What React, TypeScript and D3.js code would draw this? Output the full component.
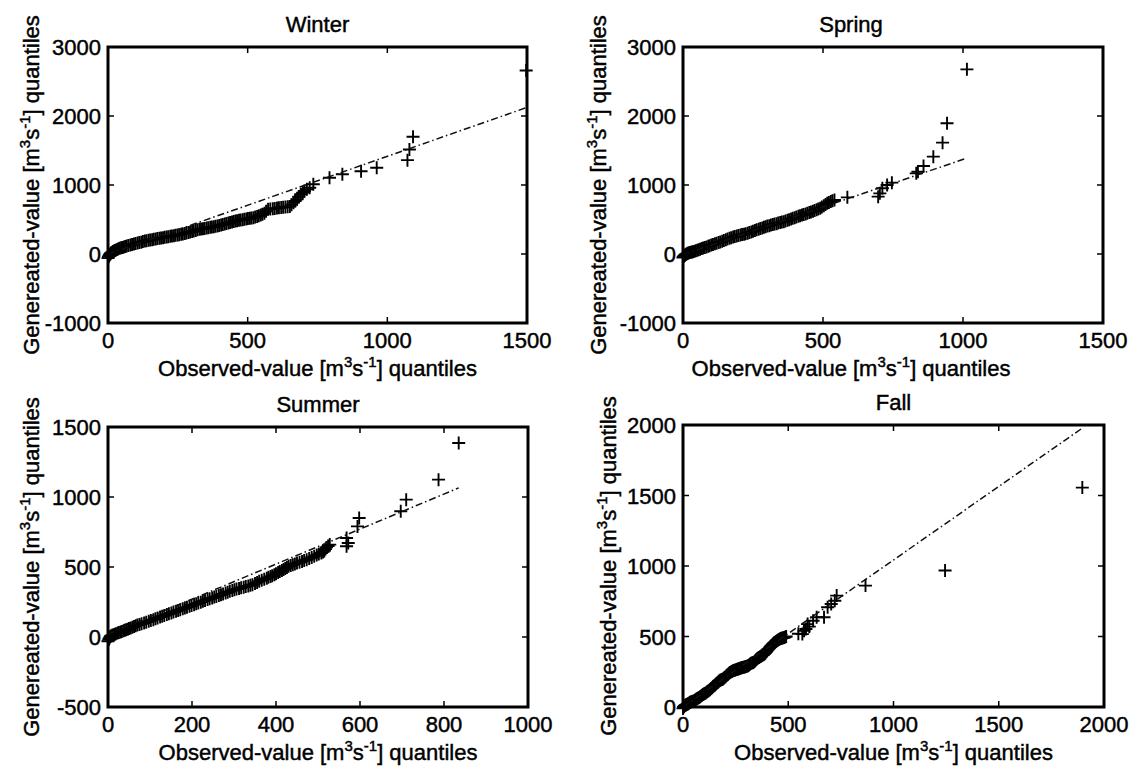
import React from "react";
import * as d3 from "d3";

type Pt = [number, number];

const titles = ["Winter", "Spring", "Summer", "Fall"];

const winterPoints: Pt[] = [
  [0, -60], [2, -40], [4, -25], [6, -10], [8, 0], [10, 10], [12, 18], [15, 27], [18, 35], [21, 43],
  [25, 51], [29, 59], [33, 67], [37, 75], [42, 82], [47, 90], [52, 96], [57, 103], [62, 110], [67, 116],
  [73, 122], [80, 130], [86, 137], [93, 145], [99, 151], [106, 158], [112, 165], [119, 172], [125, 180],
  [132, 188], [138, 193], [145, 198], [151, 203], [158, 208], [164, 213], [171, 218], [177, 223], [184, 228],
  [190, 232], [197, 237], [203, 241], [210, 246], [216, 251], [223, 256], [229, 260], [236, 265], [242, 270],
  [249, 275], [255, 280], [262, 285], [268, 291], [275, 298], [281, 305], [288, 312], [294, 319], [301, 326],
  [307, 334], [314, 342], [320, 350], [327, 357], [333, 361], [340, 366], [346, 371], [353, 376], [359, 381],
  [366, 386], [372, 391], [379, 396], [385, 401], [392, 406], [398, 413], [405, 420], [411, 428], [418, 435],
  [424, 443], [431, 450], [437, 458], [444, 465], [450, 472], [456, 478], [462, 483], [469, 488], [475, 493],
  [482, 498], [488, 503], [495, 508], [501, 513], [508, 518], [514, 522], [521, 527], [527, 536], [534, 545],
  [540, 555], [547, 565], [553, 577], [560, 590], [566, 620], [573, 650], [581, 652], [590, 655], [597, 660],
  [605, 665], [612, 670], [620, 675], [627, 677], [635, 680], [643, 685], [651, 690], [657, 715], [664, 744],
  [670, 768], [677, 792], [683, 830], [690, 865], [697, 890], [703, 913], [712, 937], [722, 961], [735, 1010],
  [793, 1105], [839, 1155], [906, 1200], [962, 1250], [1072, 1360], [1079, 1515], [1092, 1700], [1497, 2660],
];

const springPoints: Pt[] = [
  [0, -50], [2, -38], [4, -30], [6, -20], [8, -10], [11, -2], [14, 5], [17, 10], [20, 15], [24, 20],
  [28, 25], [32, 30], [36, 34], [41, 41], [46, 48], [51, 55], [56, 62], [61, 70], [67, 78], [72, 86],
  [78, 95], [84, 103], [90, 112], [95, 121], [101, 130], [107, 139], [114, 148], [120, 156], [127, 165],
  [133, 175], [140, 185], [146, 195], [153, 205], [159, 216], [166, 227], [172, 236], [179, 245], [185, 253],
  [192, 260], [198, 268], [205, 275], [211, 282], [218, 288], [224, 294], [231, 300], [237, 310], [244, 320],
  [250, 330], [257, 340], [263, 350], [270, 360], [276, 369], [283, 378], [289, 387], [295, 396], [301, 404],
  [308, 411], [314, 419], [321, 426], [327, 433], [334, 440], [340, 448], [347, 455], [353, 462], [360, 469],
  [366, 478], [373, 488], [379, 498], [386, 508], [392, 517], [399, 527], [405, 537], [412, 546], [418, 556],
  [425, 565], [431, 572], [438, 580], [444, 590], [451, 600], [457, 610], [464, 620], [470, 630], [477, 640],
  [483, 651], [490, 662], [496, 680], [503, 700], [509, 717], [515, 734], [521, 747], [528, 760], [534, 772],
  [541, 783], [587, 821], [697, 831], [703, 879], [712, 952], [729, 1000], [746, 1034], [833, 1169],
  [839, 1193], [859, 1275], [894, 1411], [927, 1614], [943, 1894], [1014, 2676],
];

const summerPoints: Pt[] = [
  [0, -30], [2, -18], [3, -10], [5, 0], [6, 5], [8, 9], [10, 12], [13, 16], [16, 20], [19, 24],
  [23, 28], [26, 32], [30, 36], [33, 40], [37, 44], [40, 48], [43, 52], [47, 56], [50, 60], [54, 65],
  [58, 70], [62, 75], [66, 80], [70, 85], [75, 90], [80, 95], [86, 100], [91, 106], [97, 112], [102, 118],
  [108, 124], [113, 130], [118, 136], [124, 142], [129, 148], [134, 154], [140, 160], [145, 166], [151, 172],
  [156, 178], [162, 184], [167, 190], [172, 195], [178, 201], [183, 207], [188, 213], [194, 219], [199, 225],
  [205, 231], [210, 237], [215, 243], [221, 249], [226, 255], [231, 261], [237, 267], [242, 273], [248, 279],
  [253, 285], [258, 290], [264, 296], [269, 302], [274, 308], [280, 314], [285, 320], [290, 326], [296, 332],
  [301, 338], [306, 342], [312, 347], [317, 352], [323, 356], [328, 361], [334, 365], [339, 370], [344, 374],
  [350, 382], [355, 390], [360, 398], [366, 405], [372, 413], [378, 420], [382, 426], [387, 432], [391, 438],
  [396, 445], [400, 452], [405, 460], [409, 467], [414, 475], [418, 482], [422, 490], [426, 497], [430, 505],
  [435, 511], [440, 516], [445, 522], [450, 528], [456, 534], [462, 540], [467, 546], [473, 552], [479, 560],
  [485, 568], [491, 576], [497, 585], [502, 592], [508, 600], [512, 608], [515, 615], [518, 628], [520, 640],
  [524, 650], [528, 660], [568, 648], [572, 671], [568, 707], [594, 790], [598, 850], [697, 898], [710, 981],
  [787, 1124], [835, 1386],
];

const fallPoints: Pt[] = [
  [0, -10], [3, 0], [5, 4], [8, 8], [11, 12], [14, 15], [17, 17], [20, 19], [23, 22], [26, 25],
  [29, 28], [33, 32], [36, 35], [40, 38], [46, 40], [52, 43], [56, 48], [60, 52], [64, 56], [68, 60],
  [72, 64], [77, 68], [81, 73], [86, 78], [90, 83], [95, 88], [99, 92], [103, 96], [108, 100], [112, 105],
  [116, 110], [120, 114], [125, 119], [129, 125], [133, 131], [138, 137], [142, 143], [146, 149], [151, 155],
  [155, 161], [159, 167], [164, 173], [168, 179], [172, 185], [176, 189], [180, 192], [185, 195], [189, 197],
  [193, 203], [197, 209], [202, 215], [206, 221], [210, 227], [214, 233], [219, 239], [223, 244], [228, 248],
  [232, 252], [236, 255], [240, 258], [245, 261], [249, 263], [254, 266], [258, 268], [262, 270], [266, 272],
  [271, 274], [275, 276], [279, 278], [283, 280], [288, 282], [292, 284], [296, 286], [300, 288], [305, 290],
  [309, 292], [314, 298], [318, 303], [322, 308], [326, 312], [331, 314], [335, 316], [340, 323], [344, 330],
  [348, 336], [352, 342], [357, 347], [361, 351], [366, 356], [370, 360], [374, 364], [378, 368], [382, 371],
  [386, 375], [391, 382], [395, 390], [399, 398], [403, 406], [408, 414], [412, 422], [416, 429], [420, 436],
  [425, 443], [429, 450], [433, 455], [437, 460], [442, 465], [446, 470], [451, 474], [455, 478], [460, 482],
  [464, 485], [468, 488], [472, 490], [477, 492], [481, 493], [486, 497], [490, 500], [548, 520], [567, 517],
  [575, 540], [584, 553], [592, 588], [600, 570], [618, 612], [635, 636], [670, 636], [687, 707], [704, 731],
  [721, 754], [730, 790], [867, 861], [1245, 968], [1897, 1556],
];

const winterFit: Pt[] = [[0, -2], [1497, 2120]];
const springFit: Pt[] = [[0, -10], [1014, 1390]];
const summerFit: Pt[] = [[0, 20], [835, 1065]];
const fallFit: Pt[] = [[0, 0], [1897, 1978]];

const winterXTicks = [0, 500, 1000, 1500];
const winterYTicks = [-1000, 0, 1000, 2000, 3000];
const springXTicks = [0, 500, 1000, 1500];
const springYTicks = [-1000, 0, 1000, 2000, 3000];
const summerXTicks = [0, 200, 400, 600, 800, 1000];
const summerYTicks = [-500, 0, 500, 1000, 1500];
const fallXTicks = [0, 500, 1000, 1500, 2000];
const fallYTicks = [0, 500, 1000, 1500, 2000];

const panelData = [
  { title: titles[0], points: winterPoints, fit: winterFit, xTicks: winterXTicks, yTicks: winterYTicks },
  { title: titles[1], points: springPoints, fit: springFit, xTicks: springXTicks, yTicks: springYTicks },
  { title: titles[2], points: summerPoints, fit: summerFit, xTicks: summerXTicks, yTicks: summerYTicks },
  { title: titles[3], points: fallPoints, fit: fallFit, xTicks: fallXTicks, yTicks: fallYTicks },
];

const layout = [
  { x0: 108, x1: 527, y0: 47, y1: 323, ylabX: 39, textShift: 0 },
  { x0: 683, x1: 1103, y0: 47, y1: 323, ylabX: 606, textShift: -42 },
  { x0: 108, x1: 528, y0: 427, y1: 707, ylabX: 39, textShift: 0 },
  { x0: 683, x1: 1104, y0: 425, y1: 707, ylabX: 616, textShift: 0 },
];

const FONT = "'Liberation Sans', Arial, Helvetica, sans-serif";
const FS = 22;
const textStyle = { stroke: "#000", strokeWidth: 0.45 } as const;

function UnitLabel({ prefix }: { prefix: string }) {
  return (
    <>
      {prefix} [m
      <tspan dy={-9} fontSize={15}>3</tspan>
      <tspan dy={9}>s</tspan>
      <tspan dy={-9} fontSize={15}>-1</tspan>
      <tspan dy={9}>] quantiles</tspan>
    </>
  );
}

function Panel({ d, l }: { d: (typeof panelData)[number]; l: (typeof layout)[number] }) {
  const xs = d3.scaleLinear().domain([d.xTicks[0], d.xTicks[d.xTicks.length - 1]]).range([l.x0, l.x1]);
  const ys = d3.scaleLinear().domain([d.yTicks[0], d.yTicks[d.yTicks.length - 1]]).range([l.y1, l.y0]);
  const line = d3.line<Pt>().x((p) => xs(p[0])).y((p) => ys(p[1]));
  const tl = 6;
  const cx = (l.x0 + l.x1) / 2 + l.textShift;
  const cy = (l.y0 + l.y1) / 2;
  const m = 6.5;
  return (
    <g>
      {d.points.map((p, i) => (
        <path key={i} transform={`translate(${xs(p[0])},${ys(p[1])})`} d={`M${-m},0H${m}M0,${-m}V${m}`} stroke="#000" strokeWidth={1.9} fill="none" />
      ))}
      <path d={line(d.fit) || ""} fill="none" stroke="#111" strokeWidth={1.5} strokeDasharray="7 3 1.5 3" />
      <g fontSize={FS} fontFamily={FONT} style={textStyle}>
        {d.xTicks.map((t, i) => (
          <g key={"x" + i}>
            <line x1={xs(t)} x2={xs(t)} y1={l.y1} y2={l.y1 - tl} stroke="#000" strokeWidth={1.5} />
            <line x1={xs(t)} x2={xs(t)} y1={l.y0} y2={l.y0 + tl} stroke="#000" strokeWidth={1.5} />
            <text x={xs(t)} y={l.y1 + 25} textAnchor="middle">{t}</text>
          </g>
        ))}
        {d.yTicks.map((t, i) => (
          <g key={"y" + i}>
            <line x1={l.x0} x2={l.x0 + tl} y1={ys(t)} y2={ys(t)} stroke="#000" strokeWidth={1.5} />
            <line x1={l.x1} x2={l.x1 - tl} y1={ys(t)} y2={ys(t)} stroke="#000" strokeWidth={1.5} />
            <text x={l.x0 - 7} y={ys(t) + 8} textAnchor="end">{t}</text>
          </g>
        ))}
        <text x={cx} y={l.y0 - 15} textAnchor="middle">{d.title}</text>
        <text x={cx} y={l.y1 + 53} textAnchor="middle">
          <UnitLabel prefix="Observed-value" />
        </text>
        <text transform={`translate(${l.ylabX},${cy}) rotate(-90)`} textAnchor="middle">
          <UnitLabel prefix="Genereated-value" />
        </text>
      </g>
      <rect x={l.x0} y={l.y0} width={l.x1 - l.x0} height={l.y1 - l.y0} fill="none" stroke="#000" strokeWidth={3} />
    </g>
  );
}

export default function App() {
  return (
    <svg width={1134} height={776} style={{ position: "absolute", left: 0, top: 0, background: "#fff" }}>
      <rect x={0} y={0} width={1134} height={776} fill="#fff" />
      {panelData.map((d, i) => (
        <Panel key={i} d={d} l={layout[i]} />
      ))}
    </svg>
  );
}
